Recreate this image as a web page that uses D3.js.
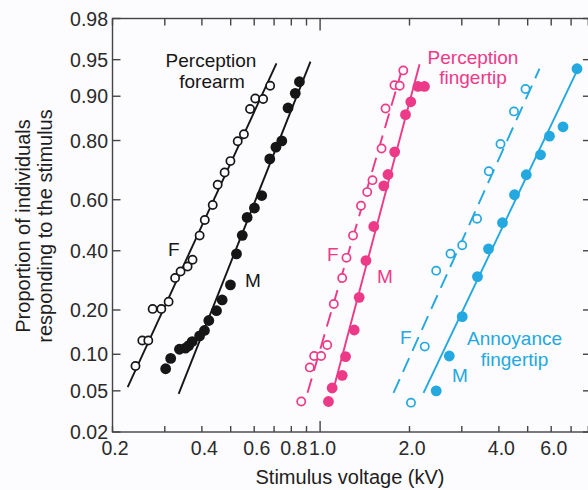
<!DOCTYPE html>
<html>
<head>
<meta charset="utf-8">
<script src="https://cdn.jsdelivr.net/npm/d3@7"></script>
<style>
  body { margin: 0; background: #fcfbfd; }
  svg { display: block; font-family: "Liberation Sans", Arial, sans-serif; }
</style>
</head>
<body>
<div class="chart"></div>
<script>
// ---- data: [voltage kV, proportion responding] ----
var forearmF = [[0.239,0.081],[0.252,0.126],[0.264,0.126],[0.273,0.203],[0.292,0.203],[0.309,0.224],
  [0.325,0.300],[0.339,0.323],[0.358,0.341],[0.372,0.366],[0.393,0.459],[0.409,0.521],[0.435,0.580],
  [0.452,0.656],[0.477,0.700],[0.499,0.738],[0.528,0.798],[0.554,0.817],[0.581,0.876],[0.605,0.896],
  [0.643,0.895],[0.679,0.917]];
var forearmM = [[0.302,0.077],[0.314,0.093],[0.336,0.109],[0.352,0.111],[0.361,0.116],[0.371,0.124],
  [0.393,0.136],[0.408,0.148],[0.422,0.172],[0.448,0.198],[0.468,0.229],[0.499,0.277],[0.523,0.388],
  [0.547,0.460],[0.568,0.531],[0.601,0.568],[0.636,0.616],[0.677,0.745],[0.710,0.781],[0.743,0.799],
  [0.780,0.878],[0.825,0.905],[0.852,0.923]];
var fingerF = [[0.864,0.040],[0.923,0.079],[0.955,0.097],[1.008,0.097],[1.057,0.117],[1.112,0.217],
  [1.187,0.300],[1.227,0.373],[1.291,0.459],[1.373,0.577],[1.441,0.629],[1.501,0.673],[1.610,0.777],
  [1.661,0.877],[1.780,0.918],[1.854,0.917],[1.906,0.938]];
var fingerM = [[1.067,0.040],[1.098,0.053],[1.187,0.068],[1.218,0.096],[1.303,0.149],[1.354,0.237],
  [1.427,0.363],[1.516,0.495],[1.639,0.652],[1.693,0.693],[1.783,0.767],[1.939,0.864],[2.020,0.890],
  [2.136,0.916],[2.246,0.916]];
var annoyF = [[2.023,0.039],[2.251,0.114],[2.460,0.326],[2.748,0.389],[3.010,0.421],[3.376,0.526],
  [3.698,0.704],[4.050,0.790],[4.496,0.871],[4.916,0.912]];
var annoyM = [[2.460,0.050],[2.723,0.097],[3.010,0.182],[3.388,0.305],[3.690,0.407],[4.112,0.510],
  [4.514,0.619],[4.946,0.692],[5.522,0.758],[5.920,0.812],[6.576,0.836],[7.328,0.940]];

// fitted lines (end points)
var forearmF_fit = [[0.225,0.054],[0.713,0.946]];
var forearmM_fit = [[0.334,0.047],[0.928,0.948]];
var fingerF_fit = [[0.907,0.048],[1.909,0.945]];
var fingerM_fit = [[1.101,0.048],[2.162,0.945]];
var annoyF_fit = [[1.767,0.048],[5.48,0.940]];
var annoyM_fit = [[2.23,0.048],[7.36,0.939]];

var xTicks = [0.2,0.3,0.4,0.5,0.6,0.7,0.8,0.9,1,2,3,4,5,6,7,8];
var xLabels = [0.2,0.4,0.6,0.8,1.0,2.0,4.0,6.0];
var yTicks = [0.98,0.95,0.90,0.80,0.60,0.40,0.20,0.10,0.05,0.02];

var BLACK = "#161616", PINK = "#ec3a89", CYAN = "#23a8df", BG = "#fcfbfd";

// inverse normal cdf (Acklam)
function probit(p) {
  var a=[-3.969683028665376e+01,2.209460984245205e+02,-2.759285104469687e+02,1.383577518672690e+02,-3.066479806614716e+01,2.506628277459239e+00];
  var b=[-5.447609879822406e+01,1.615858368580409e+02,-1.556989798598866e+02,6.680131188771972e+01,-1.328068155288572e+01];
  var c=[-7.784894002430293e-03,-3.223964580411365e-01,-2.400758277161838e+00,-2.549732539343734e+00,4.374664141464968e+00,2.938163982698783e+00];
  var d=[7.784695709041462e-03,3.224671290700398e-01,2.445134137142996e+00,3.754408661907416e+00];
  var pl = 0.02425, q, r;
  if (p < pl) {
    q = Math.sqrt(-2*Math.log(p));
    return (((((c[0]*q+c[1])*q+c[2])*q+c[3])*q+c[4])*q+c[5])/((((d[0]*q+d[1])*q+d[2])*q+d[3])*q+1);
  }
  if (p > 1-pl) {
    q = Math.sqrt(-2*Math.log(1-p));
    return -(((((c[0]*q+c[1])*q+c[2])*q+c[3])*q+c[4])*q+c[5])/((((d[0]*q+d[1])*q+d[2])*q+d[3])*q+1);
  }
  q = p-0.5; r = q*q;
  return (((((a[0]*r+a[1])*r+a[2])*r+a[3])*r+a[4])*r+a[5])*q/(((((b[0]*r+b[1])*r+b[2])*r+b[3])*r+b[4])*r+1);
}

function drawChart() {
  var W = 588, H = 490;
  var m = {left: 112.5, top: 18.5, bottom: 432, right: 593};

  var svg = d3.select(".chart").append("svg")
    .attr("width", W).attr("height", H);
  svg.append("rect").attr("width", W).attr("height", H).attr("fill", BG);

  var x = d3.scaleLog().domain([0.2, 0.2*Math.pow(10,(m.right-m.left)/297)]).range([m.left, m.right]);
  var z = d3.scaleLinear().domain([probit(0.02), probit(0.98)]).range([m.bottom, m.top]);
  var y = function(p) { return z(probit(p)); };

  // frame
  svg.append("rect")
    .attr("x", m.left).attr("y", m.top)
    .attr("width", m.right-m.left).attr("height", m.bottom-m.top)
    .attr("fill", "none").attr("stroke", "#444").attr("stroke-width", 1.4);

  var tickG = svg.append("g").attr("stroke", "#444").attr("stroke-width", 1.4);
  xTicks.forEach(function(t) {
    var len = (t === 1) ? 11 : 6;
    tickG.append("line").attr("x1", x(t)).attr("x2", x(t)).attr("y1", m.bottom).attr("y2", m.bottom-len);
    tickG.append("line").attr("x1", x(t)).attr("x2", x(t)).attr("y1", m.top).attr("y2", m.top+len+1);
  });
  yTicks.forEach(function(t) {
    tickG.append("line").attr("x1", m.left).attr("x2", m.left+8).attr("y1", y(t)).attr("y2", y(t));
    tickG.append("line").attr("x1", m.right).attr("x2", m.right-10).attr("y1", y(t)).attr("y2", y(t));
  });

  // tick labels
  svg.append("g").selectAll("text").data(xLabels).enter().append("text")
    .attr("x", function(d) { return x(d) + 2.5; })
    .attr("y", 455)
    .attr("text-anchor", "middle")
    .attr("font-size", "19.5px")
    .attr("fill", "#2a2a2a")
    .text(function(d) { return d.toFixed(1); });

  svg.append("g").selectAll("text").data(yTicks).enter().append("text")
    .attr("x", 108)
    .attr("y", function(d) { return y(d) + 7; })
    .attr("text-anchor", "end")
    .attr("font-size", "19.5px")
    .attr("fill", "#2a2a2a")
    .text(function(d) { return d.toFixed(2); });

  // axis titles
  svg.append("text")
    .attr("x", 350).attr("y", 484)
    .attr("text-anchor", "middle")
    .attr("font-size", "20px")
    .attr("fill", "#1e1e1e")
    .text("Stimulus voltage (kV)");

  var yt = svg.append("g").attr("transform", "translate(0,226) rotate(-90)");
  yt.append("text").attr("x", 0).attr("y", 29.5)
    .attr("text-anchor", "middle").attr("font-size", "20px").attr("fill", "#1e1e1e")
    .text("Proportion of individuals");
  yt.append("text").attr("x", 0).attr("y", 51.5)
    .attr("text-anchor", "middle").attr("font-size", "20px").attr("fill", "#1e1e1e")
    .text("responding to the stimulus");

  // fitted lines
  var line = d3.line().x(function(d) { return x(d[0]); }).y(function(d) { return y(d[1]); });
  var fits = [
    {d: forearmF_fit, c: BLACK, dash: null},
    {d: forearmM_fit, c: BLACK, dash: null},
    {d: fingerF_fit, c: PINK, dash: "15,8"},
    {d: fingerM_fit, c: PINK, dash: null},
    {d: annoyF_fit, c: CYAN, dash: "15,8"},
    {d: annoyM_fit, c: CYAN, dash: null}
  ];
  fits.forEach(function(f) {
    svg.append("path").attr("d", line(f.d))
      .attr("fill", "none").attr("stroke", f.c).attr("stroke-width", 1.9)
      .attr("stroke-dasharray", f.dash);
  });

  // points
  function openPts(data, col) {
    svg.append("g").selectAll("circle").data(data).enter().append("circle")
      .attr("cx", function(d) { return x(d[0]); })
      .attr("cy", function(d) { return y(d[1]); })
      .attr("r", 4.1)
      .attr("fill", BG).attr("stroke", col).attr("stroke-width", 1.7);
  }
  function filledPts(data, col) {
    svg.append("g").selectAll("circle").data(data).enter().append("circle")
      .attr("cx", function(d) { return x(d[0]); })
      .attr("cy", function(d) { return y(d[1]); })
      .attr("r", 5.4)
      .attr("fill", col);
  }
  openPts(forearmF, BLACK);
  filledPts(forearmM, BLACK);
  openPts(fingerF, PINK);
  filledPts(fingerM, PINK);
  openPts(annoyF, CYAN);
  filledPts(annoyM, CYAN);

  // annotations
  var notes = [
    {t: "Perception", x: 211, y: 67, c: BLACK, a: "middle"},
    {t: "forearm", x: 212, y: 88, c: BLACK, a: "middle"},
    {t: "F", x: 168, y: 256, c: BLACK, a: "start"},
    {t: "M", x: 245, y: 287, c: BLACK, a: "start"},
    {t: "Perception", x: 473, y: 64, c: PINK, a: "middle"},
    {t: "fingertip", x: 473, y: 84, c: PINK, a: "middle"},
    {t: "F", x: 327, y: 261, c: PINK, a: "start"},
    {t: "M", x: 377, y: 283, c: PINK, a: "start"},
    {t: "F", x: 400, y: 344, c: CYAN, a: "start"},
    {t: "M", x: 452, y: 382, c: CYAN, a: "start"},
    {t: "Annoyance", x: 514.5, y: 345, c: CYAN, a: "middle"},
    {t: "fingertip", x: 514.5, y: 366, c: CYAN, a: "middle"}
  ];
  svg.append("g").selectAll("text").data(notes).enter().append("text")
    .attr("x", function(d) { return d.x; })
    .attr("y", function(d) { return d.y; })
    .attr("text-anchor", function(d) { return d.a; })
    .attr("font-size", "19px")
    .attr("fill", function(d) { return d.c; })
    .text(function(d) { return d.t; });
}

drawChart();
</script>
</body>
</html>
